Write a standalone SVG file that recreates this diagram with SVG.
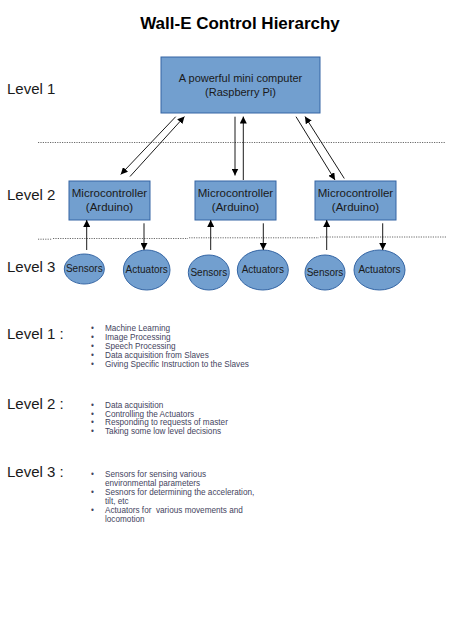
<svg xmlns="http://www.w3.org/2000/svg" width="450" height="636" viewBox="0 0 450 636">
<defs>
<marker id="ah" viewBox="0 0 10 10" refX="10" refY="5" markerWidth="7" markerHeight="7" markerUnits="userSpaceOnUse" orient="auto"><path d="M0,0 L10,5 L0,10 z" fill="#000"/></marker>
<style>
text{font-family:"Liberation Sans",Arial,sans-serif}
.box{fill:#729fcf;stroke:#3465a4;stroke-width:1}
.ell{fill:#729fcf;stroke:#3465a4;stroke-width:1}
.bt{font-size:11px;fill:#1a1a1a;text-anchor:middle}
.mt{font-size:11.5px;fill:#1a1a1a;text-anchor:middle}
.et{font-size:10px;fill:#1a1a1a;text-anchor:middle}
.lv{font-size:15px;fill:#1a1a1a}
.li{font-size:8.2px;fill:#44445e;white-space:pre}
.dot{stroke:#444;stroke-width:0.8;stroke-dasharray:1.2,1.2;fill:none}
.c{stroke:#000;stroke-width:0.9;fill:none;marker-end:url(#ah)}
</style>
</defs>
<rect width="450" height="636" fill="#fff"/>
<text x="240" y="29" text-anchor="middle" style="font-size:17px;font-weight:bold" fill="#000">Wall-E Control Hierarchy</text>

<text class="lv" x="7" y="94">Level 1</text>
<text class="lv" x="7" y="200">Level 2</text>
<text class="lv" x="7" y="272">Level 3</text>

<g id="separators">
<line class="dot" x1="38" y1="142.5" x2="445" y2="142.5"/>
<line class="dot" x1="38" y1="239.2" x2="52" y2="239.2"/>
<line class="dot" x1="53" y1="238.5" x2="188" y2="238.5"/>
<line class="dot" x1="189" y1="237.8" x2="319" y2="237.8"/>
<line class="dot" x1="320" y1="237" x2="447" y2="237"/>
</g>

<g id="pi">
<rect class="box" x="161" y="57" width="159" height="56"/>
<text class="bt" x="240.5" y="82">A powerful mini computer</text>
<text class="bt" x="240.5" y="96">(Raspberry Pi)</text>
</g>

<g id="mc1">
<rect class="box" x="69" y="181" width="81" height="39"/>
<text class="mt" x="109.5" y="197">Microcontroller</text>
<text class="mt" x="109.5" y="211">(Arduino)</text>
</g>
<g id="mc2">
<rect class="box" x="195" y="181" width="81" height="39"/>
<text class="mt" x="235.5" y="197">Microcontroller</text>
<text class="mt" x="235.5" y="211">(Arduino)</text>
</g>
<g id="mc3">
<rect class="box" x="315" y="181" width="81" height="39"/>
<text class="mt" x="355.5" y="197">Microcontroller</text>
<text class="mt" x="355.5" y="211">(Arduino)</text>
</g>

<g id="s1"><ellipse class="ell" cx="84.3" cy="269" rx="20" ry="15"/><text class="et" x="84.3" y="272">Sensors</text></g>
<g id="a1"><ellipse class="ell" cx="146.7" cy="270" rx="23.3" ry="20"/><text class="et" x="146.7" y="273">Actuators</text></g>
<g id="s2"><ellipse class="ell" cx="208.8" cy="272.5" rx="20.5" ry="17.5"/><text class="et" x="208.8" y="276">Sensors</text></g>
<g id="a2"><ellipse class="ell" cx="262.8" cy="270" rx="25.5" ry="20"/><text class="et" x="262.8" y="273">Actuators</text></g>
<g id="s3"><ellipse class="ell" cx="325" cy="272.5" rx="20" ry="17.5"/><text class="et" x="325" y="276">Sensors</text></g>
<g id="a3"><ellipse class="ell" cx="379.5" cy="270" rx="25.5" ry="20"/><text class="et" x="379.5" y="273">Actuators</text></g>

<g id="connectors">
<line class="c" x1="175.7" y1="116.7" x2="120.7" y2="174.5"/>
<line class="c" x1="130" y1="176.5" x2="184.5" y2="116.5"/>
<line class="c" x1="235" y1="116.7" x2="235" y2="175.5"/>
<line class="c" x1="243.3" y1="180" x2="243.3" y2="116.5"/>
<line class="c" x1="296" y1="116.7" x2="335" y2="180"/>
<line class="c" x1="344.3" y1="178.5" x2="305" y2="116.5"/>
<line class="c" x1="86.7" y1="250" x2="86.7" y2="220"/>
<line class="c" x1="144" y1="223.3" x2="144" y2="250"/>
<line class="c" x1="210.7" y1="250" x2="210.7" y2="220"/>
<line class="c" x1="263.3" y1="223.3" x2="263.3" y2="250"/>
<line class="c" x1="326.7" y1="250" x2="326.7" y2="220"/>
<line class="c" x1="382.7" y1="223.3" x2="382.7" y2="250"/>
</g>

<g id="notes">
<text class="lv" x="7" y="339">Level 1 :</text>
<g class="li">
<text x="91" y="331">•</text><text x="105" y="331">Machine Learning</text>
<text x="91" y="340">•</text><text x="105" y="340">Image Processing</text>
<text x="91" y="349">•</text><text x="105" y="349">Speech Processing</text>
<text x="91" y="358">•</text><text x="105" y="358">Data acquisition from Slaves</text>
<text x="91" y="367">•</text><text x="105" y="367">Giving Specific Instruction to the Slaves</text>
</g>
<text class="lv" x="7" y="409">Level 2 :</text>
<g class="li">
<text x="91" y="408">•</text><text x="105" y="408">Data acquisition</text>
<text x="91" y="416.7">•</text><text x="105" y="416.7">Controlling the Actuators</text>
<text x="91" y="425.4">•</text><text x="105" y="425.4">Responding to requests of master</text>
<text x="91" y="434">•</text><text x="105" y="434">Taking some low level decisions</text>
</g>
<text class="lv" x="7" y="476.5">Level 3 :</text>
<g class="li">
<text x="91" y="476.5">•</text><text x="105" y="476.5">Sensors for sensing various</text>
<text x="105" y="485.5">environmental parameters</text>
<text x="91" y="494.5">•</text><text x="105" y="494.5">Sesnors for determining the acceleration,</text>
<text x="105" y="503.5">tilt, etc</text>
<text x="91" y="512.5">•</text><text x="105" y="512.5" xml:space="preserve">Actuators for  various movements and</text>
<text x="105" y="521.5">locomotion</text>
</g>
</g>
</svg>
